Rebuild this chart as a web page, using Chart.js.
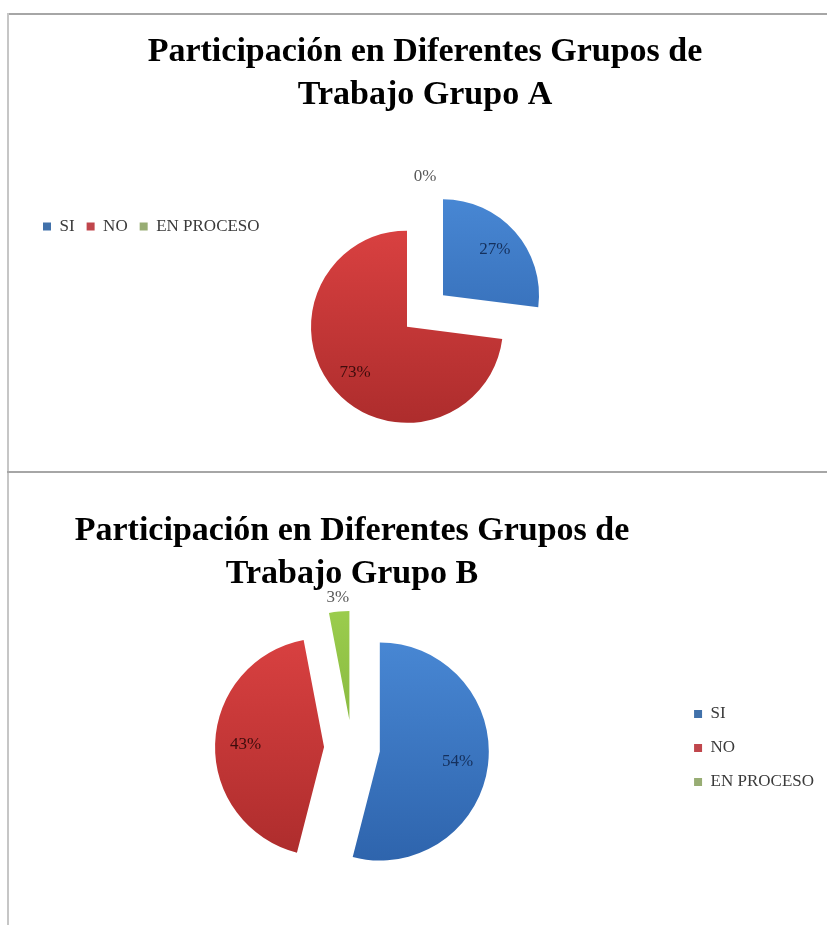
<!DOCTYPE html>
<html>
<head>
<meta charset="utf-8">
<script src="https://cdn.jsdelivr.net/npm/chart.js@4.4.1/dist/chart.umd.min.js"></script>
<style>
  body { margin: 0; background: #fff; }
  #page { position: relative; width: 827px; height: 925px; overflow: hidden; }
  .line { position: absolute; background: #a6a6a6; }
  .box { position: absolute; }
</style>
</head>
<body>
<div id="page">
  <div class="line" style="left:7px;top:13px;width:820px;height:2px"></div>
  <div class="line" style="left:7px;top:13px;width:2px;height:912px;background:#c6c6c6"></div>
  <div class="line" style="left:7px;top:471px;width:820px;height:2px"></div>
  <div class="box" style="left:9px;top:15px;width:818px;height:456px"><canvas id="chartA"></canvas></div>
  <div class="box" style="left:9px;top:473px;width:818px;height:452px"><canvas id="chartB"></canvas></div>
</div>
<script>
// datos
const categories = ['SI', 'NO', 'EN PROCESO'];
const grupoA = [27, 73, 0];
const grupoB = [54, 43, 3];
const titleA = ['Participación en Diferentes Grupos de', 'Trabajo Grupo A'];
const titleB = ['Participación en Diferentes Grupos de', 'Trabajo Grupo B'];

// colores
const sliceTop = ['#4b8bd8', '#de4343', '#9fd150'];
const sliceBottom = ['#2b60a8', '#a82a2a', '#74a431'];
const legendColors = ['#4171aa', '#c0464c', '#98ad74'];
const labelColors = ['#15305c', '#3d0c0c', '#3d4d1a'];
const serif = '"Liberation Serif", "Times New Roman", serif';

function gradientFill(radius, dist) {
  return ctx => {
    const area = ctx.chart.chartArea;
    const i = ctx.dataIndex;
    if (!area) return sliceTop[i];
    const cy = (area.top + area.bottom) / 2;
    const g = ctx.chart.ctx.createLinearGradient(0, cy - radius - dist, 0, cy + radius + dist);
    g.addColorStop(0, sliceTop[i]);
    g.addColorStop(1, sliceBottom[i]);
    return g;
  };
}

// sectores separados: todos se desplazan la misma distancia (como en Excel)
const explode = {
  id: 'explode',
  beforeDatasetDraw(chart, args, opts) {
    const ctx = chart.ctx;
    args.meta.data.forEach(arc => {
      const mid = (arc.startAngle + arc.endAngle) / 2;
      ctx.save();
      ctx.translate(Math.cos(mid) * opts.distance, Math.sin(mid) * opts.distance);
      arc.draw(ctx);
      ctx.restore();
    });
    return false;
  }
};

// etiquetas de porcentaje
const sliceLabels = {
  id: 'sliceLabels',
  afterDatasetsDraw(chart) {
    const ctx = chart.ctx;
    const dist = chart.options.plugins.explode.distance;
    const values = chart.data.datasets[0].data;
    const total = values.reduce((a, b) => a + b, 0);
    ctx.save();
    ctx.font = '17px ' + serif;
    ctx.textAlign = 'center';
    ctx.textBaseline = 'middle';
    chart.getDatasetMeta(0).data.forEach((arc, i) => {
      const mid = (arc.startAngle + arc.endAngle) / 2;
      const share = values[i] / total;
      const small = share < 0.05;
      const d = small ? dist + arc.outerRadius + 14 : dist + arc.outerRadius * 0.72;
      ctx.fillStyle = small ? '#595959' : labelColors[i];
      ctx.fillText(Math.round(share * 100) + '%', arc.x + Math.cos(mid) * d, arc.y + Math.sin(mid) * d);
    });
    ctx.restore();
  }
};

function legendItems(chart) {
  return Chart.overrides.pie.plugins.legend.labels.generateLabels(chart).map((item, i) => ({
    ...item, fillStyle: legendColors[i], strokeStyle: legendColors[i], lineWidth: 0
  }));
}

function makePie(id, title, values, radius, dist, titleOpts, legend, padding) {
  return new Chart(document.getElementById(id), {
    type: 'pie',
    data: {
      labels: categories,
      datasets: [{
        data: values,
        backgroundColor: gradientFill(radius, dist),
        borderWidth: 0,
        radius: radius,
        clip: false
      }]
    },
    options: {
      responsive: true,
      maintainAspectRatio: false,
      animation: false,
      events: [],
      layout: { padding: padding },
      plugins: {
        title: Object.assign({
          display: true,
          text: title,
          color: '#000',
          font: { family: serif, size: 34, weight: 'bold', lineHeight: 1.25 }
        }, titleOpts),
        legend: legend,
        tooltip: { enabled: false },
        explode: { distance: dist }
      }
    },
    plugins: [explode, sliceLabels]
  });
}

// Grupo A: leyenda horizontal a la izquierda
makePie('chartA', titleA, grupoA, 96, 24, { padding: { top: 16, bottom: 90 } }, {
  position: 'top',
  align: 'start',
  labels: {
    boxWidth: 8, boxHeight: 8, padding: 12, color: '#3a3a3a',
    font: { family: serif, size: 17 },
    generateLabels: legendItems
  }
}, { left: 22, right: 8, top: 0, bottom: 94 });

// Grupo B: leyenda vertical a la derecha
makePie('chartB', titleB, grupoB, 109, 28, { fullSize: false, padding: { top: 37, bottom: 7 } }, {
  position: 'right',
  fullSize: false,
  labels: {
    boxWidth: 8, boxHeight: 8, padding: 17, color: '#3a3a3a',
    font: { family: serif, size: 17 },
    generateLabels: legendItems
  }
}, { left: 18, right: 3, top: 0, bottom: 31 });
</script>
</body>
</html>
